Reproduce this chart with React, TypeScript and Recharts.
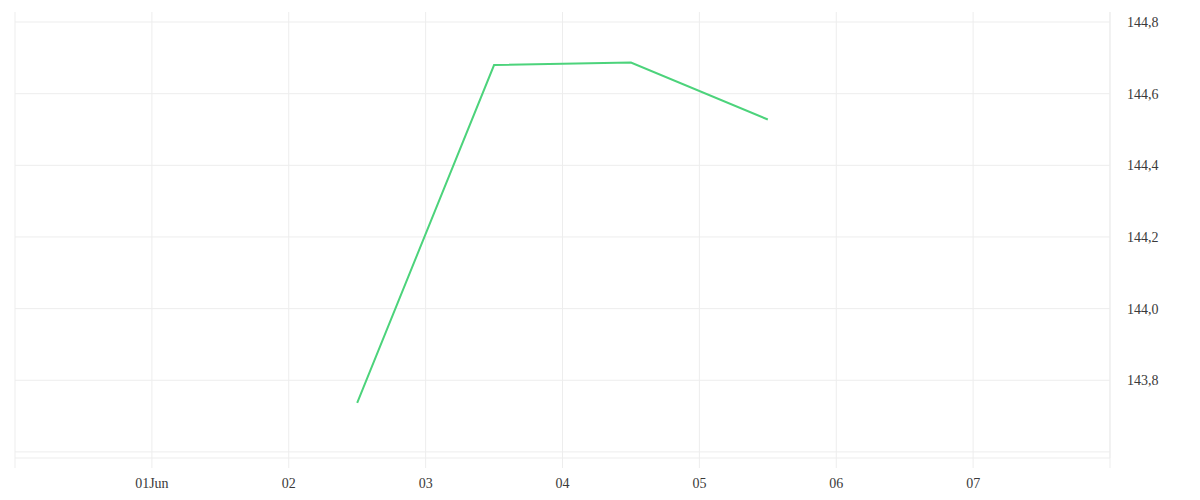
import { LineChart, Line, XAxis, YAxis, ReferenceLine } from 'recharts'

// day ticks, 31 May → 8 Jun
const tickDays = [0, 1, 2, 3, 4, 5, 6, 7, 8]
const tickLabels = ['', '01Jun', '02', '03', '04', '05', '06', '07', '']

// series: days since 31 May 00:00
const pointDays = [2.5, 3.5, 4.5, 5.5]
const pointValues = [143.737, 144.68, 144.687, 144.528]

const yTicks = [143.6, 143.8, 144.0, 144.2, 144.4, 144.6, 144.8]

const GRID = '#ededed'
const TEXT = '#3a3a3a'

const data = pointDays.map((d, i) => ({ day: d, value: pointValues[i] }))

const fmtY = (v: number) => (v < 143.7 ? '' : v.toFixed(1).replace('.', ','))

export default function App() {
  return (
    <div style={{ position: 'absolute', left: 0, top: 0 }}>
      <LineChart width={1200} height={500} data={data} margin={{ top: 12, right: 30, bottom: 12, left: 15 }}>
        {/* grid drawn as reference lines so that only tick rows/columns show */}
        {tickDays.map((d) => (
          <ReferenceLine key={'x' + d} x={d} stroke={GRID} strokeWidth={1} />
        ))}
        {yTicks.map((v) => (
          <ReferenceLine key={'y' + v} y={v} stroke={GRID} strokeWidth={1} />
        ))}
        <XAxis
          dataKey="day"
          type="number"
          domain={[0, 8]}
          ticks={tickDays}
          tickFormatter={(v: number) => tickLabels[tickDays.indexOf(v)] ?? ''}
          interval={0}
          height={30}
          axisLine={{ stroke: GRID }}
          tickLine={{ stroke: GRID }}
          tickSize={10}
          tickMargin={10}
          tick={{ fontSize: 14, fill: TEXT }}
        />
        <YAxis
          orientation="right"
          type="number"
          domain={[143.583, 144.828]}
          ticks={yTicks}
          tickFormatter={fmtY}
          interval={0}
          width={60}
          axisLine={{ stroke: GRID }}
          tickLine={false}
          tickMargin={11}
          tick={{ fontSize: 14, fill: TEXT }}
        />
        <Line
          type="linear"
          dataKey="value"
          stroke="#4cd37b"
          strokeWidth={2}
          dot={false}
          activeDot={false}
          isAnimationActive={false}
        />
      </LineChart>
    </div>
  )
}
